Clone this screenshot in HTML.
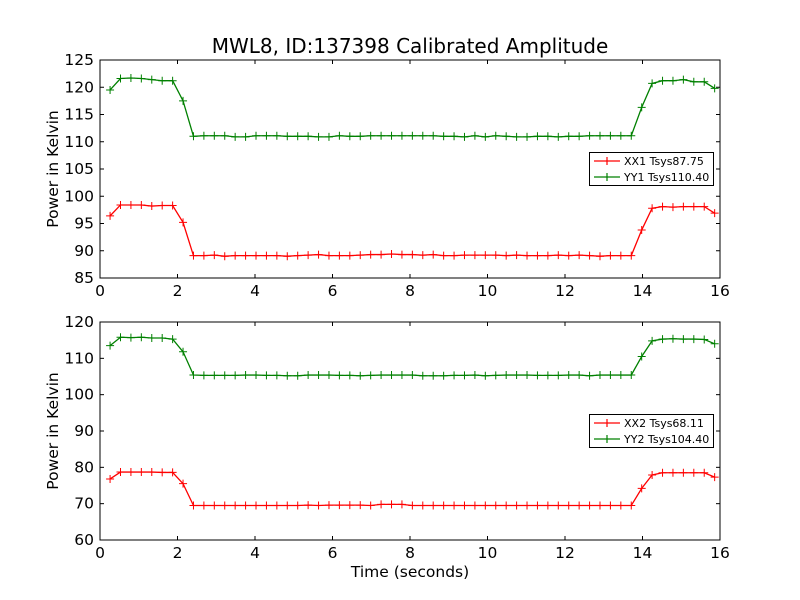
<!DOCTYPE html>
<html><head><meta charset="utf-8"><style>
body{margin:0;background:#fff;}
svg{display:block;font-family:"DejaVu Sans","Liberation Sans",sans-serif;}
</style></head><body>
<svg id="chart" width="800" height="600" viewBox="0 0 800 600">
<rect width="800" height="600" fill="#fff"/>
<text x="410" y="53" font-size="20" text-anchor="middle">MWL8, ID:137398 Calibrated Amplitude</text>
<text x="410" y="577" font-size="15.5" text-anchor="middle">Time (seconds)</text>
</svg>
<script>
const xTicks=[0,2,4,6,8,10,12,14,16];
const top_yTicks=[85,90,95,100,105,110,115,120,125];
const bot_yTicks=[60,70,80,90,100,110,120];
const t0=0.26, dt=0.269;
const xx1=[96.4,98.4,98.4,98.4,98.2,98.3,98.3,95.2,
89.1,89.1,89.2,89.0,89.1,89.1,89.1,89.1,89.1,89.0,89.1,89.2,89.3,89.1,89.1,89.1,89.2,89.3,89.3,89.4,89.3,89.3,89.2,89.3,89.1,89.1,89.2,89.2,89.2,89.2,89.1,89.2,89.1,89.1,89.1,89.2,89.1,89.2,89.1,89.0,89.1,89.1,89.1,
93.8,97.8,98.1,98.0,98.1,98.1,98.1,96.9];
const yy1=[119.5,121.6,121.7,121.6,121.4,121.2,121.2,117.5,
111.0,111.1,111.1,111.1,110.9,110.9,111.1,111.1,111.1,111.0,111.0,111.0,110.9,110.9,111.1,111.0,111.0,111.1,111.1,111.1,111.1,111.1,111.1,111.1,111.0,111.0,110.9,111.1,110.9,111.1,111.0,110.9,110.9,111.0,111.0,110.9,111.0,111.0,111.1,111.1,111.1,111.1,111.1,
116.3,120.7,121.2,121.2,121.4,121.0,121.0,119.8];
const xx2=[76.8,78.7,78.7,78.7,78.7,78.6,78.6,75.5,
69.5,69.5,69.5,69.5,69.5,69.5,69.5,69.5,69.5,69.5,69.5,69.6,69.5,69.6,69.6,69.6,69.6,69.5,69.8,69.8,69.8,69.5,69.5,69.5,69.5,69.5,69.5,69.5,69.5,69.5,69.5,69.5,69.5,69.5,69.5,69.5,69.5,69.5,69.5,69.5,69.5,69.5,69.5,
74.2,77.9,78.5,78.5,78.5,78.5,78.5,77.3];
const yy2=[113.5,115.8,115.7,115.8,115.6,115.6,115.3,111.8,
105.4,105.3,105.3,105.3,105.3,105.4,105.4,105.3,105.3,105.2,105.2,105.4,105.4,105.4,105.3,105.3,105.2,105.3,105.4,105.4,105.4,105.4,105.2,105.2,105.2,105.3,105.3,105.4,105.2,105.3,105.4,105.4,105.4,105.3,105.3,105.3,105.4,105.4,105.2,105.4,105.4,105.4,105.4,
110.5,114.8,115.3,115.4,115.3,115.3,115.2,114.0];
const NS='http://www.w3.org/2000/svg';
const svg=document.getElementById('chart');
function mk(tag,attrs,parent){const e=document.createElementNS(NS,tag);for(const k in attrs)e.setAttribute(k,attrs[k]);(parent||svg).appendChild(e);return e;}
const X0=100,X1=720;
const xs=v=>X0+(v-0)/(16-0)*(X1-X0);
function panel(name,yTop,yBot,ymin,ymax,yTicks,series,legendY){
  const ys=v=>yBot-(v-ymin)/(ymax-ymin)*(yBot-yTop);
  const g=mk('g',{});
  
  
  xTicks.forEach(t=>{
    mk('line',{x1:xs(t),x2:xs(t),y1:yBot,y2:yBot-4,stroke:'#000'},g);
    mk('line',{x1:xs(t),x2:xs(t),y1:yTop,y2:yTop+4,stroke:'#000'},g);
    const tx=mk('text',{x:xs(t),y:yBot+18,'font-size':15.5,'text-anchor':'middle'},g);
    tx.textContent=t;
    
    
  });
  yTicks.forEach(t=>{
    mk('line',{x1:X0,x2:X0+4,y1:ys(t),y2:ys(t),stroke:'#000'},g);
    mk('line',{x1:X1,x2:X1-4,y1:ys(t),y2:ys(t),stroke:'#000'},g);
    const tx=mk('text',{x:X0-6,y:ys(t)+5,'font-size':15.5,'text-anchor':'end'},g);
    tx.textContent=t;
    
    
  });
  const yt=mk('text',{x:0,y:0,'font-size':15.5,'text-anchor':'middle',transform:`translate(58,${(yTop+yBot)/2}) rotate(-90)`},g);
  yt.textContent='Power in Kelvin';
  
  
  series.forEach(s=>{
    const pts=s.vals.map((v,i)=>[xs(t0+i*dt),ys(v)]);
    const pl=mk('polyline',{points:pts.map(p=>p.join(',')).join(' '),fill:'none',stroke:s.color,'stroke-width':1.3},g);
    
    
    pts.forEach(p=>{
      const m=mk('path',{d:`M${p[0]-4},${p[1]}h8M${p[0]},${p[1]-4}v8`,stroke:s.color,'stroke-width':1},g);
      
      
    });
  });
  mk('rect',{x:X0,y:yTop,width:X1-X0,height:yBot-yTop,fill:'none',stroke:'#000','stroke-width':1},g);
  const lg=mk('g',{},g);
  
  
  mk('rect',{x:589.5,y:legendY+0.5,width:124,height:33,fill:'#fff',stroke:'#000','stroke-width':1},lg);
  series.forEach((s,i)=>{
    const cy=legendY+9+i*16;
    mk('path',{d:`M594,${cy}h26M607,${cy-4}v8`,stroke:s.color,'stroke-width':1.2},lg);
    const tx=mk('text',{x:624,y:cy+4,'font-size':11},lg);
    tx.textContent=s.label;
    
    
  });
}
panel('top-panel',60,278,85,125,top_yTicks,[{key:'xx1',vals:xx1,color:'#ff0000',label:'XX1 Tsys87.75'},{key:'yy1',vals:yy1,color:'#008000',label:'YY1 Tsys110.40'}],152);
panel('bottom-panel',322,540,60,120,bot_yTicks,[{key:'xx2',vals:xx2,color:'#ff0000',label:'XX2 Tsys68.11'},{key:'yy2',vals:yy2,color:'#008000',label:'YY2 Tsys104.40'}],414);
</script>
</body></html>
